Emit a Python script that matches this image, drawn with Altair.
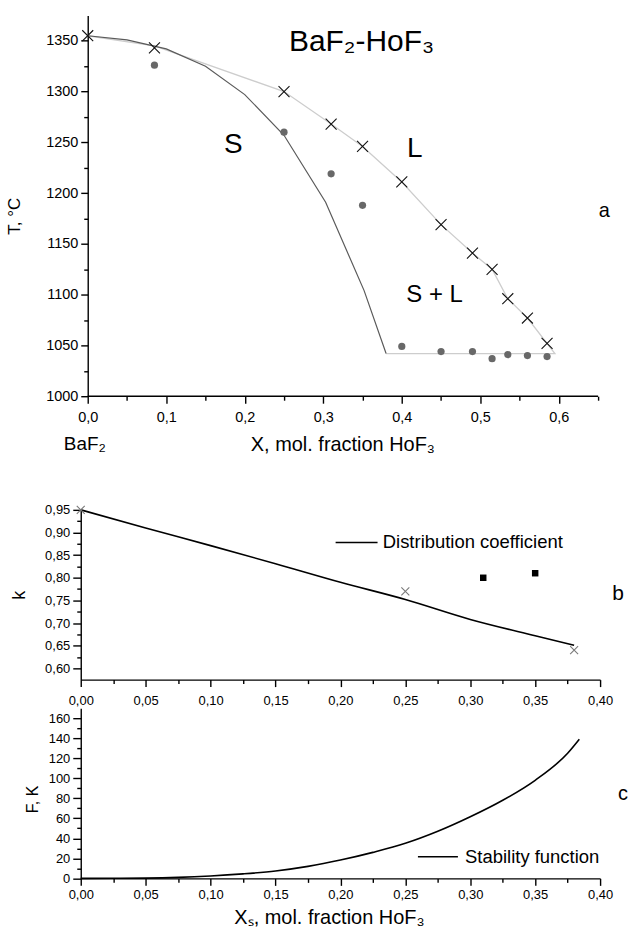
import altair as alt
import pandas as pd

FONT = "Liberation Sans"

# ---------------- panel a : BaF2-HoF3 phase diagram ----------------
liq_x = [0.0, 0.085, 0.25, 0.31, 0.35, 0.40, 0.45, 0.49, 0.515, 0.535, 0.56, 0.585]
liq_T = [1355, 1343, 1300, 1268, 1246, 1211, 1169, 1141, 1125, 1096, 1077, 1052]
sol_pts_x = [0.085, 0.25, 0.31, 0.35, 0.40, 0.45, 0.49, 0.515, 0.535, 0.56, 0.585]
sol_pts_T = [1326, 1260, 1219, 1188, 1049, 1044, 1044, 1037, 1041, 1040, 1039]
liq_line_x = [0.0, 0.085, 0.25, 0.31, 0.35, 0.40, 0.45, 0.49, 0.515, 0.535, 0.56, 0.595, 0.38]
liq_line_T = [1355, 1345, 1300, 1268, 1246, 1211, 1169, 1141, 1125, 1096, 1077, 1042, 1042]
sol_line_x = [0.0, 0.05, 0.10, 0.15, 0.20, 0.25, 0.303, 0.352, 0.38]
sol_line_T = [1355, 1351, 1342, 1325, 1297, 1257, 1191, 1104, 1042]

# ---------------- panel b : distribution coefficient ----------------
k_line_x = [0.0, 0.05, 0.10, 0.15, 0.20, 0.25, 0.30, 0.35, 0.38]
k_line = [0.95, 0.910, 0.871, 0.831, 0.790, 0.752, 0.708, 0.672, 0.651]
k_cross_x = [0.0, 0.25, 0.38]
k_cross = [0.95, 0.77, 0.64]
k_sq_x = [0.31, 0.35]
k_sq = [0.80, 0.81]

# ---------------- panel c : stability function ----------------
f_x = [0.0, 0.025, 0.05, 0.075, 0.10, 0.125, 0.15, 0.175, 0.20, 0.225, 0.25,
       0.275, 0.30, 0.325, 0.35, 0.375, 0.384]
f_val = [0.0, 0.1, 0.3, 1.0, 2.4, 4.5, 7.4, 12.0, 18.3, 26.0, 35.0,
         47.0, 61.5, 78.0, 98.0, 125.0, 139.0]

# legend / annotation texts
legend_k = "Distribution coefficient"
legend_f = "Stability function"

# ---------------- helpers ----------------
def comma(fmt):
    return f"replace(format(datum.value, '{fmt}'), '.', ',')"

BLACK = "black"
common_axis = dict(grid=False, tickColor=BLACK, tickWidth=1.4, domainColor=BLACK,
                   domainWidth=1.4, labelColor=BLACK, labelFont=FONT, labelFlush=False,
                   labelOverlap=False, titleFont=FONT, titleColor=BLACK,
                   titleFontWeight="normal")


def arange(a, b, s):
    out, v = [], a
    while v <= b + 1e-9:
        out.append(round(v, 6))
        v += s
    return out


CROSS = "M-1,-1L1,1M-1,1L1,-1"


def panel(layers, xs, ys, ax_x, ax_y):
    """Build the layers of one panel; all layers share the main axes."""
    out = []
    for df, mark, extra in layers:
        mark = dict(mark)
        mtype = mark.pop("_type")
        enc = dict(x=alt.X("x:Q", scale=xs, axis=ax_x), y=alt.Y("y:Q", scale=ys, axis=ax_y))
        enc.update(extra)
        out.append(getattr(alt.Chart(df), mtype)(**mark).encode(**enc))
    return alt.layer(*out)


def minor_layer(xs, ys, ax_x, ax_y, x0, y0):
    return alt.Chart(pd.DataFrame({"x": [x0], "y": [y0]})).mark_point(opacity=0).encode(
        x=alt.X("x:Q", scale=xs, axis=ax_x), y=alt.Y("y:Q", scale=ys, axis=ax_y))


def txt(x, y, t, size, align="center"):
    return (pd.DataFrame({"x": [x], "y": [y], "t": [t]}),
            dict(_type="mark_text", font=FONT, fontSize=size, color=BLACK, align=align,
                 baseline="alphabetic"),
            dict(text="t:N"))

# ================= TOP PANEL =================
TOP_PX = 512 / 0.65
SHIFT = 7
TOP_W = 512 + SHIFT
TOP_H = 382
xs_top = alt.Scale(domain=[-SHIFT / TOP_PX, 0.65], nice=False, zero=False)
ys_top = alt.Scale(domain=[1000, 1375], nice=False, zero=False)

ax_x_top = alt.Axis(orient="bottom", values=arange(0, 0.6, 0.1), labelExpr=comma(".1f"),
                    domain=False, tickSize=7, labelFontSize=14.5, labelPadding=7,
                    title="X, mol. fraction HoF₃", titleFontSize=20, titlePadding=11,
                    titleX=262.5, **common_axis)
ax_x_top_min = alt.Axis(orient="bottom", values=arange(0.05, 0.65, 0.1), labels=False,
                        domain=False, tickSize=4, title=None, **common_axis)
ax_y_top = alt.Axis(orient="left", values=arange(1000, 1350, 50), format="d", offset=-SHIFT,
                    tickSize=7, labelFontSize=14.5, labelPadding=3,
                    title="T, °C", titleFontSize=17, titlePadding=22, titleY=201,
                    **common_axis)
ax_y_top_min = alt.Axis(orient="left", values=arange(1025, 1325, 50), labels=False,
                        domain=False, offset=-SHIFT, tickSize=4, title=None, **common_axis)

top_layers = [
    (pd.DataFrame({"x": liq_line_x, "y": liq_line_T, "o": list(range(len(liq_line_x)))}),
     dict(_type="mark_line", color="#cdcdcd", strokeWidth=1.3), dict(order="o:Q")),
    (pd.DataFrame({"x": sol_line_x, "y": sol_line_T}),
     dict(_type="mark_line", color="#5a5a5a", strokeWidth=1.2), {}),
    (pd.DataFrame({"x": sol_pts_x, "y": sol_pts_T}),
     dict(_type="mark_point", shape="circle", size=52, filled=True, color="#686868",
          opacity=1), {}),
    (pd.DataFrame({"x": liq_x, "y": liq_T}),
     dict(_type="mark_point", shape=CROSS, size=121, filled=False, color="#111111",
          strokeWidth=1.1, opacity=1), {}),
    (pd.DataFrame({"x": [0.0], "y": [1000], "x2": [0.65]}),
     dict(_type="mark_rule", color=BLACK, strokeWidth=1.4), dict(x2="x2:Q")),
    txt(0.2564, 1339.5, "BaF₂-HoF₃", 30, "left"),
    txt(0.1853, 1239.7, "S", 28),
    txt(0.4164, 1235.8, "L", 28),
    txt(0.4418, 1093, "S + L", 24),
    txt(0.658, 1176.3, "a", 20),
    txt(-0.0305, 947.5, "BaF₂", 19, "left"),
]
top = alt.layer(panel(top_layers, xs_top, ys_top, ax_x_top, ax_y_top),
                minor_layer(xs_top, ys_top, ax_x_top_min, ax_y_top_min, 0.1, 1100)
                ).resolve_axis(x="independent", y="independent").properties(
    width=TOP_W, height=TOP_H)

# ================= MIDDLE PANEL =================
LOW_W = 521
MID_H = 170.3
xs_low = alt.Scale(domain=[0, 0.40], nice=False, zero=False)
ys_mid = alt.Scale(domain=[0.575, 0.95], nice=False, zero=False)

ax_x_mid = alt.Axis(orient="bottom", values=arange(0, 0.4, 0.05), labelExpr=comma(".2f"),
                    tickSize=7, labelFontSize=13, labelPadding=8, title=None, **common_axis)
ax_x_low_min = alt.Axis(orient="bottom", values=arange(0.025, 0.375, 0.05), labels=False,
                        domain=False, tickSize=4, title=None, **common_axis)
ax_y_mid = alt.Axis(orient="left", values=arange(0.60, 0.95, 0.05), labelExpr=comma(".2f"),
                    tickSize=8, labelFontSize=13, labelPadding=3, title="k",
                    titleFontSize=18, titlePadding=16, **common_axis)
ax_y_mid_min = alt.Axis(orient="left", values=arange(0.625, 0.925, 0.05), labels=False,
                        domain=False, tickSize=4, title=None, **common_axis)

mid_layers = [
    (pd.DataFrame({"x": k_line_x, "y": k_line}),
     dict(_type="mark_line", color=BLACK, strokeWidth=1.6, interpolate="monotone"), {}),
    (pd.DataFrame({"x": k_cross_x, "y": k_cross}),
     dict(_type="mark_point", shape=CROSS, size=64, filled=False, color="#7a7a7a",
          strokeWidth=1.1, opacity=1), {}),
    (pd.DataFrame({"x": k_sq_x, "y": k_sq}),
     dict(_type="mark_point", shape="square", size=42, filled=True, color=BLACK,
          opacity=1), {}),
    # legend: sample line + label
    (pd.DataFrame({"x": [0.1963], "y": [0.878], "x2": [0.2286]}),
     dict(_type="mark_rule", color=BLACK, strokeWidth=1.6), dict(x2="x2:Q")),
    (pd.DataFrame({"x": [0.2326], "y": [0.878], "t": [legend_k]}),
     dict(_type="mark_text", font=FONT, fontSize=18.5, color=BLACK, align="left",
          baseline="middle"), dict(text="t:N")),
    txt(0.4138, 0.7518, "b", 21),
]
mid = alt.layer(panel(mid_layers, xs_low, ys_mid, ax_x_mid, ax_y_mid),
                minor_layer(xs_low, ys_mid, ax_x_low_min, ax_y_mid_min, 0.1, 0.8)
                ).resolve_axis(x="independent", y="independent").properties(
    width=LOW_W, height=MID_H)

# ================= BOTTOM PANEL =================
BOT_H = 170.7
ys_bot = alt.Scale(domain=[0, 170], nice=False, zero=False)
ax_x_bot = alt.Axis(orient="bottom", values=arange(0, 0.4, 0.05), labelExpr=comma(".2f"),
                    tickSize=7, labelFontSize=13, labelPadding=3,
                    title="Xₛ, mol. fraction HoF₃", titleFontSize=20, titlePadding=6,
                    titleX=249, **common_axis)
ax_y_bot = alt.Axis(orient="left", values=arange(0, 160, 20), format="d", tickSize=8,
                    labelFontSize=13, labelPadding=3, title="F, K", titleFontSize=16,
                    titlePadding=8, titleY=91, **common_axis)
ax_y_bot_min = alt.Axis(orient="left", values=arange(10, 150, 20), labels=False,
                        domain=False, tickSize=4, title=None, **common_axis)

bot_layers = [
    (pd.DataFrame({"x": f_x, "y": f_val}),
     dict(_type="mark_line", color=BLACK, strokeWidth=1.6, interpolate="monotone"), {}),
    (pd.DataFrame({"x": [0.2597], "y": [21.6], "x2": [0.2905]}),
     dict(_type="mark_rule", color=BLACK, strokeWidth=1.6), dict(x2="x2:Q")),
    (pd.DataFrame({"x": [0.296], "y": [21.6], "t": [legend_f]}),
     dict(_type="mark_text", font=FONT, fontSize=18.5, color=BLACK, align="left",
          baseline="middle"), dict(text="t:N")),
    txt(0.4177, 78.4, "c", 20),
]
bot = alt.layer(panel(bot_layers, xs_low, ys_bot, ax_x_bot, ax_y_bot),
                minor_layer(xs_low, ys_bot, ax_x_low_min, ax_y_bot_min, 0.1, 50)
                ).resolve_axis(x="independent", y="independent").properties(
    width=LOW_W, height=BOT_H)

lower = alt.vconcat(mid, bot, spacing=-7)
chart = alt.vconcat(top, lower, spacing=48).properties(
    padding={"left": 5, "top": 14, "right": 0, "bottom": 0},
    background="white",
).configure_view(stroke=None)

chart.save("out.html", embed_options={"renderer": "svg", "actions": False})
